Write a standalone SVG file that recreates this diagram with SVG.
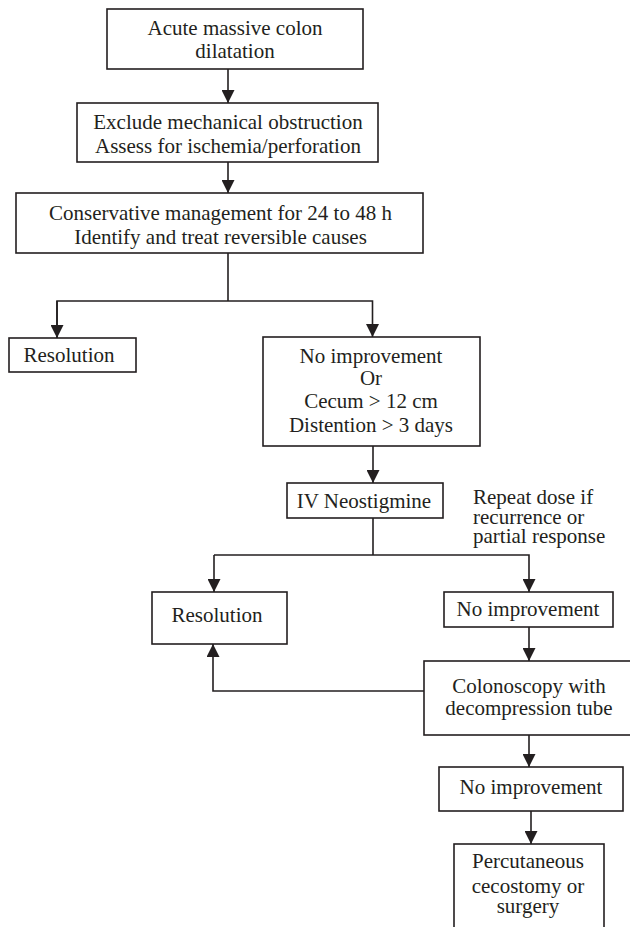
<svg xmlns="http://www.w3.org/2000/svg" width="630" height="927" viewBox="0 0 630 927">
<style>
.box{fill:#fff;stroke:#231f20;stroke-width:1.6}
.t{font-family:"Liberation Serif","Times New Roman",serif;font-size:21px;fill:#231f20;text-anchor:middle}
.l{text-anchor:start}
.c{fill:none;stroke:#231f20;stroke-width:1.6}
</style>
<defs>
<marker id="ah" markerUnits="userSpaceOnUse" markerWidth="14" markerHeight="13" refX="13" refY="6.5" orient="auto">
<path d="M0,0 L13,6.5 L0,13 z" fill="#231f20"/>
</marker>
</defs>
<rect width="630" height="927" fill="#fff"/>
<g id="connectors">
<line class="c" x1="228" y1="69" x2="228" y2="103" marker-end="url(#ah)"/>
<line class="c" x1="228" y1="162" x2="228" y2="193" marker-end="url(#ah)"/>
<polyline class="c" points="228,253 228,301"/>
<polyline class="c" points="57,338 57,301 372.5,301 372.5,337" marker-end="url(#ah)"/>
<line class="c" x1="57" y1="301" x2="57" y2="338" marker-end="url(#ah)"/>
<line class="c" x1="373" y1="446" x2="373" y2="483" marker-end="url(#ah)"/>
<polyline class="c" points="373,518 373,555"/>
<polyline class="c" points="214,555 529,555 529,592" marker-end="url(#ah)"/>
<line class="c" x1="214" y1="555" x2="214" y2="592" marker-end="url(#ah)"/>
<line class="c" x1="529" y1="627" x2="529" y2="661" marker-end="url(#ah)"/>
<polyline class="c" points="424,691 213,691 213,644" marker-end="url(#ah)"/>
<line class="c" x1="529" y1="735" x2="529" y2="767" marker-end="url(#ah)"/>
<line class="c" x1="531" y1="811" x2="531" y2="844" marker-end="url(#ah)"/>
</g>
<g id="n1"><rect class="box" x="107" y="9" width="256" height="60"/>
<text class="t" x="235" y="35">Acute massive colon</text><text class="t" x="235" y="58">dilatation</text></g>
<g id="n2"><rect class="box" x="77" y="103" width="301" height="59"/>
<text class="t" x="228" y="129">Exclude mechanical obstruction</text><text class="t" x="228" y="153">Assess for ischemia/perforation</text></g>
<g id="n3"><rect class="box" x="16" y="193" width="407" height="60"/>
<text class="t" x="220.5" y="220">Conservative management for 24 to 48 h</text><text class="t" x="220.5" y="244">Identify and treat reversible causes</text></g>
<g id="n4"><rect class="box" x="9" y="338" width="127" height="34"/>
<text class="t" x="69" y="362">Resolution</text></g>
<g id="n5"><rect class="box" x="263" y="337" width="217" height="109"/>
<text class="t" x="371" y="363">No improvement</text><text class="t" x="371" y="385">Or</text><text class="t" x="371" y="408">Cecum &gt; 12 cm</text><text class="t" x="371" y="432">Distention &gt; 3 days</text></g>
<g id="n6"><rect class="box" x="287" y="483" width="156" height="35"/>
<text class="t" x="364" y="508">IV Neostigmine</text></g>
<g id="note"><text class="t l" x="473" y="504">Repeat dose if</text><text class="t l" x="473" y="524">recurrence or</text><text class="t l" x="473" y="543">partial response</text></g>
<g id="n7"><rect class="box" x="152" y="592" width="135" height="52"/>
<text class="t" x="217" y="622">Resolution</text></g>
<g id="n8"><rect class="box" x="444" y="592" width="169" height="35"/>
<text class="t" x="528" y="616">No improvement</text></g>
<g id="n9"><rect class="box" x="424" y="661" width="212" height="74"/>
<text class="t" x="529" y="693">Colonoscopy with</text><text class="t" x="529" y="715">decompression tube</text></g>
<g id="n10"><rect class="box" x="439" y="767" width="184" height="44"/>
<text class="t" x="531" y="794">No improvement</text></g>
<g id="n11"><rect class="box" x="454" y="844" width="150" height="100"/>
<text class="t" x="528" y="868">Percutaneous</text><text class="t" x="528" y="893">cecostomy or</text><text class="t" x="528" y="913">surgery</text></g>
</svg>
